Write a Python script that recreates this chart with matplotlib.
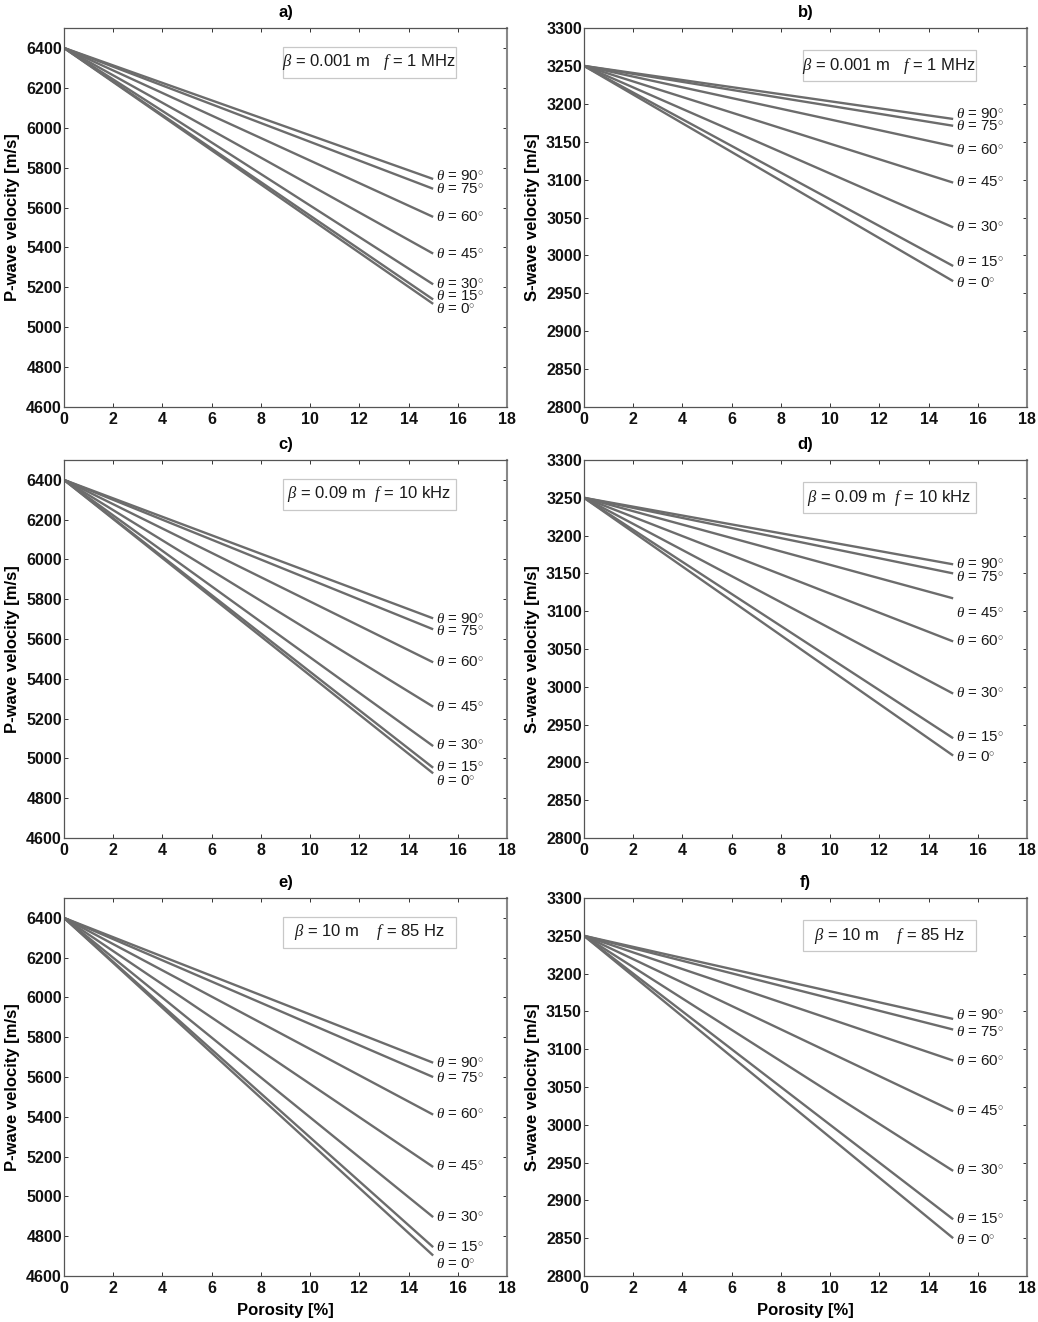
import matplotlib
matplotlib.use("Agg")
import matplotlib.pyplot as plt
from matplotlib.patches import Rectangle

plt.rcParams['font.family'] = ['Liberation Sans', 'DejaVu Sans']
plt.rcParams['mathtext.fontset'] = 'custom'
plt.rcParams['mathtext.rm'] = 'Liberation Sans'
plt.rcParams['mathtext.it'] = 'Liberation Serif:italic'
plt.rcParams['mathtext.bf'] = 'Liberation Sans:bold'

# ---------------- data ----------------
porosity = [0, 15]
P0 = 6400
S0 = 3250

# curve end velocities at 15 % porosity, ordered theta = 90, 75, 60, 45, 30, 15, 0
vp_a = [5743, 5694, 5553, 5369, 5215, 5139, 5117]
vs_b = [3180, 3171, 3144, 3096, 3037, 2986, 2966]
vp_c = [5704, 5649, 5483, 5260, 5062, 4953, 4925]
vs_d = [3162, 3150, 3117, 3060, 2991, 2932, 2909]
vp_e = [5672, 5600, 5411, 5148, 4896, 4745, 4703]
vs_f = [3140, 3126, 3085, 3018, 2939, 2875, 2850]

# curve labels (top to bottom) and their vertical positions
labels_std = ['90', '75', '60', '45', '30', '15', '0']
labels_d = ['90', '75', '45', '60', '30', '15', '0']
label_y_a = [5758, 5694, 5553, 5369, 5218, 5156, 5092]
label_y_b = [3187, 3171, 3139, 3097, 3038, 2991, 2964]
label_y_c = [5701, 5641, 5483, 5260, 5067, 4955, 4888]
label_y_d = [3163, 3145, 3097, 3060, 2992, 2933, 2907]
label_y_e = [5672, 5597, 5416, 5153, 4896, 4745, 4662]
label_y_f = [3145, 3123, 3084, 3018, 2940, 2876, 2848]

box_texts = [r"$\beta$ = 0.001 m   $f$ = 1 MHz",
             r"$\beta$ = 0.09 m  $f$ = 10 kHz",
             r"$\beta$ = 10 m    $f$ = 85 Hz"]
panel_titles = ['a)', 'b)', 'c)', 'd)', 'e)', 'f)']

xticks = [0, 2, 4, 6, 8, 10, 12, 14, 16, 18]
p_ticks = [4600, 4800, 5000, 5200, 5400, 5600, 5800, 6000, 6200, 6400]
s_ticks = [2800, 2850, 2900, 2950, 3000, 3050, 3100, 3150, 3200, 3250, 3300]

# ---------------- figure ----------------
W, H = 1038, 1322
fig = plt.figure(figsize=(W / 100, H / 100), dpi=100)

col_left = [64 / W, 584 / W]
ax_w = 443 / W
rows = [(28, 407), (460, 838), (898, 1276)]

panels = [
    (vp_a, label_y_a, labels_std, 'P', 0),
    (vs_b, label_y_b, labels_std, 'S', 0),
    (vp_c, label_y_c, labels_std, 'P', 1),
    (vs_d, label_y_d, labels_d, 'S', 1),
    (vp_e, label_y_e, labels_std, 'P', 2),
    (vs_f, label_y_f, labels_std, 'S', 2),
]

line_color = '#6c6c6c'
fs_tick = 11.5
fs_lab = 12

for i, (ends, lab_y, labs, kind, r) in enumerate(panels):
    c = i % 2
    top, bot = rows[r]
    ax = fig.add_axes([col_left[c], 1 - bot / H, ax_w, (bot - top) / H])
    v0 = P0 if kind == 'P' else S0
    for v in ends:
        ax.plot(porosity, [v0, v], color=line_color, lw=1.7, solid_capstyle='butt')
    for t, y in zip(labs, lab_y):
        ax.text(15.1, y, r"$\theta$ = " + t + r"$^{\circ}$", fontsize=10.8,
                ha='left', va='center', color='#1a1a1a')
    ax.set_xlim(0, 18)
    ax.set_xticks(xticks)
    if kind == 'P':
        ax.set_ylim(4600, 6500)
        ax.set_yticks(p_ticks + [6500])
        ax.set_yticklabels([str(t) for t in p_ticks] + [''])
        ax.set_ylabel('P-wave velocity [m/s]', fontsize=fs_lab, fontweight='bold')
    else:
        ax.set_ylim(2800, 3300)
        ax.set_yticks(s_ticks)
        ax.set_ylabel('S-wave velocity [m/s]', fontsize=fs_lab, fontweight='bold')
    ax.yaxis.set_label_coords(-0.099, 0.5)
    ax.tick_params(direction='in', length=3, width=0.7, top=True, right=True,
                   labelsize=fs_tick, colors='#333333', labelcolor='#111111')
    ax.tick_params(axis='y', pad=1.5)
    ax.tick_params(axis='x', pad=3.5)
    for lab in ax.get_xticklabels() + ax.get_yticklabels():
        lab.set_fontweight('bold')
    for sp in ax.spines.values():
        sp.set_color('#555555')
        sp.set_linewidth(0.9)
    ax.spines['right'].set_linewidth(1.5)
    ax.spines['right'].set_color('#888888')
    ax.set_title(panel_titles[i], fontsize=fs_lab, fontweight='bold', pad=8)
    if r == 2:
        ax.set_xlabel('Porosity [%]', fontsize=fs_lab, fontweight='bold')
        ax.xaxis.set_label_coords(0.5, -0.072)
    # parameter box
    bx0 = 0.494
    by = 0.91 if kind == 'P' else 0.90
    ax.add_patch(Rectangle((bx0, by - 0.041), 0.39, 0.082, transform=ax.transAxes,
                           facecolor='white', edgecolor='#c8c8c8', lw=0.9, zorder=3))
    ax.text(bx0 + 0.195, by, box_texts[r], transform=ax.transAxes, fontsize=12,
            ha='center', va='center', color='#1a1a1a', zorder=4)

fig.savefig('out.png', dpi=100)
